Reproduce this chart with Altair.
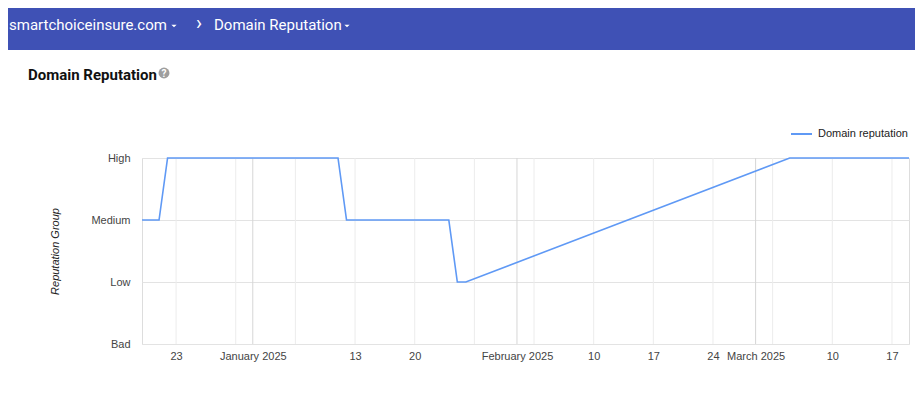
import altair as alt
import pandas as pd

# ---- data ----
dates = ["2024-12-19", "2024-12-21", "2024-12-22", "2025-01-11", "2025-01-12",
         "2025-01-24", "2025-01-25", "2025-01-26", "2025-03-05", "2025-03-19"]
reputation = ["Medium", "Medium", "High", "High", "Medium",
              "Medium", "Low", "Low", "High", "High"]
levels = ["High", "Medium", "Low", "Bad"]
week_lines = ["2024-12-23", "2024-12-30", "2025-01-06", "2025-01-13", "2025-01-20",
              "2025-01-27", "2025-02-03", "2025-02-10", "2025-02-17", "2025-02-24",
              "2025-03-03", "2025-03-10", "2025-03-17"]
month_lines = ["2025-01-01", "2025-02-01", "2025-03-01"]
label_dates = [(2024, 12, 23), (2025, 1, 1), (2025, 1, 13), (2025, 1, 20), (2025, 2, 1),
               (2025, 2, 10), (2025, 2, 17), (2025, 2, 24), (2025, 3, 1), (2025, 3, 10),
               (2025, 3, 17)]
series_name = "Domain reputation"
site = "smartchoiceinsure.com"
page_title = "Domain Reputation"

df = pd.DataFrame({"date": [d + "T00:00:00" for d in dates], "rep": reputation})
wk = pd.DataFrame({"date": [d + "T00:00:00" for d in week_lines]})
mo = pd.DataFrame({"date": [d + "T00:00:00" for d in month_lines]})
one = pd.DataFrame({"k": [0]})

W, H = 767, 186
LABEL_FONT = "Liberation Sans"

xscale = alt.Scale(domain=[alt.DateTime(year=2024, month=12, date=19),
                           alt.DateTime(year=2025, month=3, date=19)])

x_axis = alt.Axis(
    values=[alt.DateTime(year=y, month=m, date=d) for (y, m, d) in label_dates],
    labelExpr="date(datum.value) == 1 ? timeFormat(datum.value, '%B %Y') : timeFormat(datum.value, '%-d')",
    grid=False, ticks=False, domain=False, title=None,
    labelFont=LABEL_FONT, labelFontSize=11, labelColor="#444444",
    labelPadding=6, labelOverlap=False, labelFlush=False,
)
y_axis = alt.Axis(
    grid=True, gridColor="#e3e3e3", ticks=False, domain=False,
    labelFont=LABEL_FONT, labelFontSize=11, labelColor="#444444", labelPadding=12,
    title="Reputation Group", titleFont=LABEL_FONT, titleFontSize=11,
    titleFontStyle="italic", titleFontWeight="normal", titleColor="#222222",
    titleAngle=-90, titleX=-87, titleY=H / 2, titleAlign="center", titleBaseline="middle",
)

week_rules = alt.Chart(wk).mark_rule(color="#ececec", strokeWidth=1).encode(
    x=alt.X("date:T", scale=xscale, axis=x_axis))
month_rules = alt.Chart(mo).mark_rule(color="#d6d6d6", strokeWidth=1).encode(
    x=alt.X("date:T", scale=xscale, axis=x_axis))

line = alt.Chart(df).mark_line(color="#5f99f5", strokeWidth=1.6).encode(
    x=alt.X("date:T", scale=xscale, axis=x_axis),
    y=alt.Y("rep:N", sort=levels,
            scale=alt.Scale(type="point", domain=levels, padding=0), axis=y_axis),
)

caret = "M-1,-0.5L1,-0.5L0,0.5Z"

# header bar and texts (decoration)
header = alt.Chart(one).mark_rect(color="#3f51b5").encode(
    x=alt.value(-134), x2=alt.value(773), y=alt.value(-150), y2=alt.value(-108))
hdr_site = alt.Chart(one).mark_text(text=site, font="Roboto", fontSize=15, color="white",
                                    align="left", baseline="middle").encode(
    x=alt.value(-133), y=alt.value(-133))
hdr_caret1 = alt.Chart(one).mark_point(shape=caret, filled=True, color="white",
                                        size=28, opacity=1, strokeWidth=0).encode(
    x=alt.value(32), y=alt.value(-132))
hdr_sep = alt.Chart(one).mark_text(text="›", font="Roboto", fontSize=20, color="white",
                                   align="center", baseline="middle").encode(
    x=alt.value(57), y=alt.value(-134))
hdr_page = alt.Chart(one).mark_text(text=page_title, font="Roboto", fontSize=15, color="white",
                                    align="left", baseline="middle").encode(
    x=alt.value(72), y=alt.value(-133))
hdr_caret2 = alt.Chart(one).mark_point(shape=caret, filled=True, color="white",
                                        size=28, opacity=1, strokeWidth=0).encode(
    x=alt.value(205), y=alt.value(-132))

title_txt = alt.Chart(one).mark_text(text=page_title, font="Roboto", fontSize=15,
                                     fontWeight="bold", color="#111111",
                                     align="left", baseline="middle").encode(
    x=alt.value(-114), y=alt.value(-83))
help_circle = alt.Chart(one).mark_point(shape="circle", filled=True, color="#9e9e9e",
                                         size=120, opacity=1).encode(
    x=alt.value(22), y=alt.value(-85))
help_q = alt.Chart(one).mark_text(text="?", font="Roboto", fontSize=10, fontWeight="bold",
                                  color="white", align="center", baseline="middle").encode(
    x=alt.value(22), y=alt.value(-84))

legend_line = alt.Chart(one).mark_rule(color="#5f99f5", strokeWidth=2).encode(
    x=alt.value(649), x2=alt.value(670), y=alt.value(-24))
legend_txt = alt.Chart(one).mark_text(text=series_name, font=LABEL_FONT, fontSize=11,
                                      color="#222222", align="left", baseline="middle").encode(
    x=alt.value(676), y=alt.value(-24))

chart = alt.layer(
    header, hdr_site, hdr_caret1, hdr_sep, hdr_page, hdr_caret2,
    title_txt, help_circle, help_q,
    week_rules, month_rules, line,
    legend_line, legend_txt,
).properties(
    width=W, height=H,
    autosize=alt.AutoSizeParams(type="none"),
    padding={"left": 134, "top": 150, "right": 6, "bottom": 40},
).configure_view(stroke=None).configure(background="white")

chart.save("out.html", embed_options={"renderer": "svg", "actions": False})
